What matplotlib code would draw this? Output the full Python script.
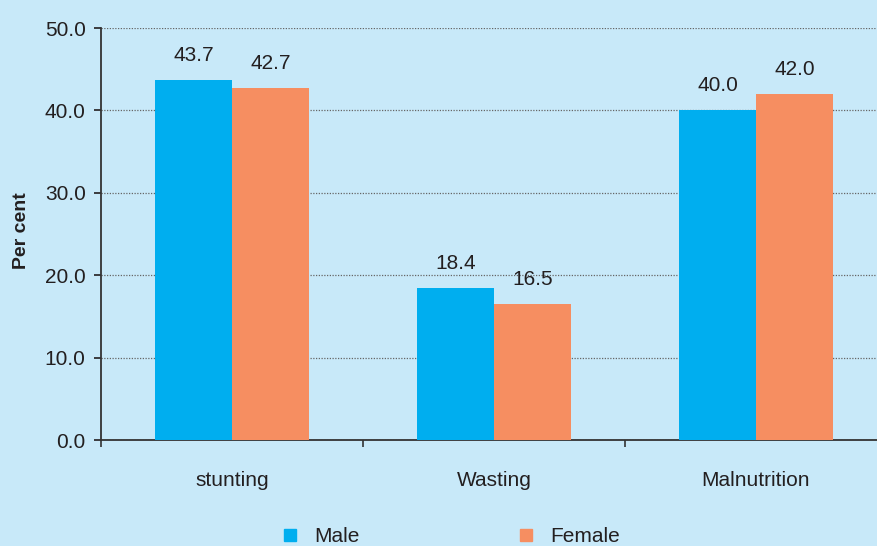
import matplotlib
matplotlib.use("Agg")
import matplotlib.pyplot as plt
from matplotlib.lines import Line2D
import numpy as np

categories = ["stunting", "Wasting", "Malnutrition"]
male = [43.7, 18.4, 40.0]
female = [42.7, 16.5, 42.0]
series_names = ["Male", "Female"]
yticks = [0.0, 10.0, 20.0, 30.0, 40.0, 50.0]

bg = "#C8E9F9"
c_male = "#00AEEF"
c_female = "#F68E61"
txt = "#231F20"
fs = 15

plt.rcParams["font.family"] = ["Liberation Sans", "DejaVu Sans"]

fig = plt.figure(figsize=(8.78, 5.46), dpi=100, facecolor=bg)
ax = fig.add_axes([101 / 878, 106 / 546, 786 / 878, 412 / 546])
ax.set_facecolor(bg)

x = np.arange(len(categories))
w = 0.294
b1 = ax.bar(x - w / 2, male, w, color=c_male, zorder=3)
b2 = ax.bar(x + w / 2, female, w, color=c_female, zorder=3)

for bars, vals in ((b1, male), (b2, female)):
    for r, v in zip(bars, vals):
        ax.annotate(f"{v:.1f}", (r.get_x() + r.get_width() / 2, v),
                    xytext=(0, 11), textcoords="offset points",
                    ha="center", va="bottom", fontsize=fs, color=txt)

ax.set_xlim(-0.5, len(categories) - 0.5)
ax.set_ylim(0, 50)
ax.set_yticks(yticks)
ax.set_yticklabels([f"{t:.1f}" for t in yticks])
ax.yaxis.grid(True, linestyle=(0, (1, 1.2)), color="#666666", linewidth=0.9, zorder=0)
ax.set_axisbelow(True)

ax.set_xticks(x)
ax.set_xticklabels(categories)
ax.set_xticks(np.arange(len(categories) + 1) - 0.5, minor=True)
ax.tick_params(axis="x", which="major", length=0, pad=22, labelsize=fs, colors=txt)
ax.tick_params(axis="x", which="minor", length=5, width=1.2, direction="out", color="#333333")
ax.tick_params(axis="y", length=5, width=1.2, direction="out", labelsize=fs,
               colors=txt, pad=6)

for s in ("top", "right"):
    ax.spines[s].set_visible(False)
for s in ("left", "bottom"):
    ax.spines[s].set_color("#333333")
    ax.spines[s].set_linewidth(1.3)

ax.set_ylabel("Per cent", fontsize=14, fontweight="bold", color=txt)
ax.yaxis.set_label_coords(-0.090, 0.507)

handles = [Line2D([], [], marker="s", linestyle="none", markersize=8, color=c)
           for c in (c_male, c_female)]
fig.legend(handles, series_names, loc="center", bbox_to_anchor=(450 / 878, 1 - 537 / 546),
           ncol=2, frameon=False, fontsize=fs, columnspacing=7.5,
           handlelength=1.0, handletextpad=0.65, labelcolor=txt,
           borderpad=0.0)

fig.savefig("out.png", dpi=100, facecolor=bg)
